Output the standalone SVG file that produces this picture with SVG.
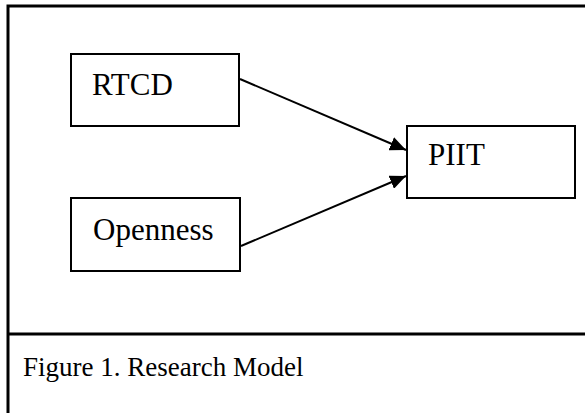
<svg xmlns="http://www.w3.org/2000/svg" width="585" height="413" viewBox="0 0 585 413">
  <style>
    .frame { fill: none; stroke: #000; stroke-width: 3; }
    .box { fill: #fff; stroke: #000; stroke-width: 2; }
    .label { font-family: "Liberation Serif", "Times New Roman", serif; font-size: 31px; fill: #000; }
    .caption { font-family: "Liberation Serif", "Times New Roman", serif; font-size: 27px; fill: #000; }
    .edge { fill: none; stroke: #000; stroke-width: 2; }
  </style>
  <defs>
    <marker id="arrow" markerWidth="16" markerHeight="14" refX="16" refY="7" orient="auto" markerUnits="userSpaceOnUse">
      <path d="M0,0 L16,7 L0,14 Z" fill="#000"/>
    </marker>
  </defs>
  <rect width="585" height="413" fill="#fff"/>

  <!-- outer frame with caption divider -->
  <g id="frame">
    <path class="frame" d="M8,415 L8,6 L586,6"/>
    <line class="frame" x1="8" y1="334" x2="586" y2="334"/>
  </g>

  <g id="connectors">
    <line class="edge" x1="240" y1="79" x2="406" y2="150" marker-end="url(#arrow)"/>
    <line class="edge" x1="241" y1="246" x2="406" y2="176" marker-end="url(#arrow)"/>
  </g>

  <g id="node-rtcd">
    <rect class="box" x="71" y="54" width="168" height="72"/>
    <text class="label" x="92" y="95">RTCD</text>
  </g>

  <g id="node-openness">
    <rect class="box" x="71" y="198" width="169" height="73"/>
    <text class="label" x="93" y="240">Openness</text>
  </g>

  <g id="node-piit">
    <rect class="box" x="407" y="126" width="168" height="72"/>
    <text class="label" x="428" y="165">PIIT</text>
  </g>

  <text class="caption" x="23" y="376">Figure 1. Research Model</text>
</svg>
